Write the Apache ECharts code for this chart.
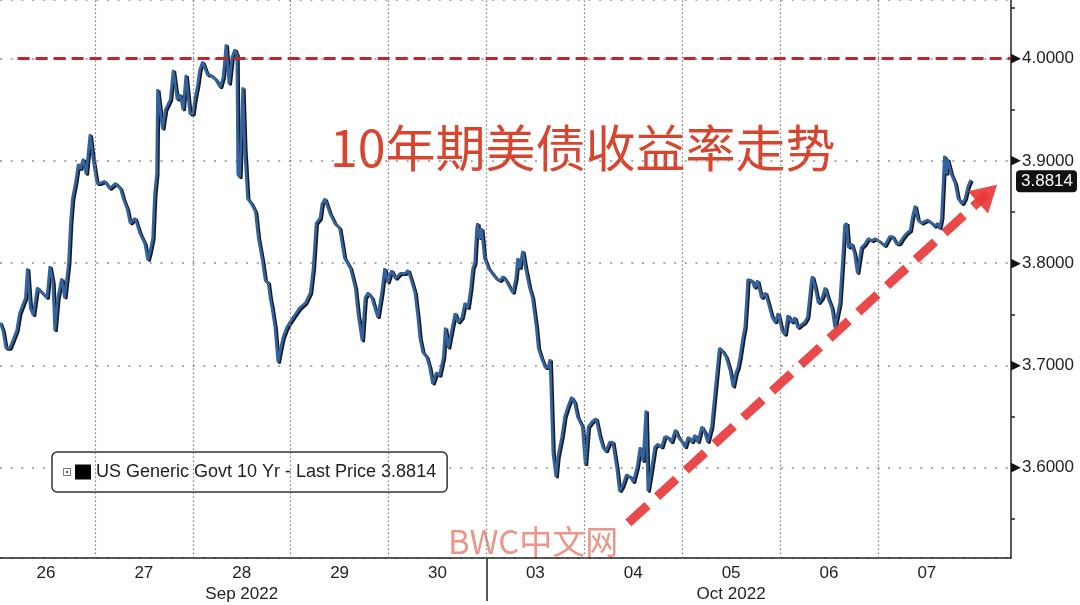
<!DOCTYPE html>
<html>
<head>
<meta charset="utf-8">
<script src="https://cdn.jsdelivr.net/npm/echarts@6/dist/echarts.min.js"></script>
<style>
  html, body { margin: 0; padding: 0; background: #fff; }
  #chart { width: 1080px; height: 605px; }
</style>
</head>
<body>
<div id="chart"></div>
<script>
// x = trading-session position (0 = Sep 26 open, 1 day per unit), y = yield %
const days = [
  0.03, 0.06, 0.09, 0.13, 0.16, 0.20, 0.23, 0.29, 0.31, 0.34,
  0.37, 0.41, 0.46, 0.51, 0.54, 0.57, 0.59, 0.62, 0.66, 0.69,
  0.73, 0.75, 0.77, 0.80, 0.83, 0.85, 0.88, 0.91, 0.95, 0.98,
  1.02, 1.05, 1.10, 1.15, 1.21, 1.26, 1.29, 1.33, 1.36, 1.41,
  1.46, 1.51, 1.54, 1.56, 1.59, 1.61, 1.63, 1.64, 1.69, 1.72,
  1.77, 1.80, 1.84, 1.87, 1.90, 1.93, 1.97, 2.00, 2.02, 2.05,
  2.07, 2.10, 2.15, 2.18, 2.23, 2.28, 2.31, 2.34, 2.37, 2.40,
  2.43, 2.45, 2.46, 2.48, 2.51, 2.53, 2.56, 2.60, 2.64, 2.67,
  2.71, 2.74, 2.77, 2.79, 2.81, 2.84, 2.87, 2.89, 2.92, 2.96,
  2.99, 3.04, 3.09, 3.15, 3.20, 3.23, 3.26, 3.30, 3.32, 3.35,
  3.40, 3.45, 3.50, 3.55, 3.61, 3.66, 3.69, 3.73, 3.76, 3.79,
  3.83, 3.86, 3.89, 3.93, 3.96, 3.99, 4.03, 4.07, 4.12, 4.17,
  4.20, 4.24, 4.27, 4.30, 4.32, 4.35, 4.39, 4.42, 4.45, 4.49,
  4.52, 4.56, 4.58, 4.61, 4.65, 4.68, 4.71, 4.75, 4.78, 4.81,
  4.84, 4.86, 4.88, 4.90, 4.91, 4.93, 4.95, 4.98, 5.02, 5.06,
  5.10, 5.14, 5.17, 5.20, 5.24, 5.27, 5.30, 5.32, 5.34, 5.37,
  5.40, 5.44, 5.47, 5.51, 5.53, 5.56, 5.60, 5.63, 5.65, 5.68,
  5.71, 5.73, 5.77, 5.80, 5.83, 5.87, 5.90, 5.93, 5.98, 6.01,
  6.04, 6.08, 6.12, 6.16, 6.19, 6.22, 6.26, 6.29, 6.33, 6.36,
  6.39, 6.43, 6.47, 6.50, 6.54, 6.57, 6.60, 6.63, 6.65, 6.69,
  6.72, 6.75, 6.79, 6.82, 6.85, 6.89, 6.93, 6.96, 7.00, 7.03,
  7.06, 7.10, 7.13, 7.16, 7.20, 7.23, 7.26, 7.30, 7.33, 7.36,
  7.38, 7.42, 7.45, 7.49, 7.52, 7.55, 7.57, 7.59, 7.62, 7.64,
  7.66, 7.67, 7.71, 7.74, 7.77, 7.81, 7.85, 7.88, 7.92, 7.95,
  7.98, 8.02, 8.05, 8.08, 8.12, 8.15, 8.18, 8.22, 8.25, 8.28,
  8.32, 8.33, 8.36, 8.39, 8.43, 8.46, 8.49, 8.53, 8.56, 8.58,
  8.61, 8.63, 8.66, 8.68, 8.70, 8.73, 8.76, 8.79, 8.83, 8.87,
  8.90, 8.94, 8.97, 9.02, 9.07, 9.12, 9.15, 9.19, 9.22, 9.25,
  9.29, 9.33, 9.35, 9.38, 9.41, 9.45, 9.48, 9.51, 9.55, 9.58,
  9.61, 9.63, 9.65, 9.68, 9.70, 9.71, 9.73, 9.75, 9.79, 9.82,
  9.86, 9.89, 9.92, 9.95
]
const yields = [
  3.742, 3.734, 3.717, 3.717, 3.724, 3.734, 3.751, 3.766, 3.795, 3.756,
  3.749, 3.776, 3.771, 3.766, 3.797, 3.781, 3.734, 3.766, 3.785, 3.766,
  3.800, 3.839, 3.863, 3.878, 3.897, 3.892, 3.902, 3.887, 3.926, 3.902,
  3.878, 3.878, 3.880, 3.873, 3.878, 3.873, 3.863, 3.853, 3.839, 3.844,
  3.829, 3.819, 3.803, 3.810, 3.824, 3.868, 3.887, 3.970, 3.931, 3.950,
  3.960, 3.989, 3.960, 3.965, 3.950, 3.984, 3.946, 3.946, 3.960, 3.975,
  3.989, 3.997, 3.984, 3.984, 3.980, 3.972, 3.982, 4.014, 3.975, 4.001,
  4.009, 4.004, 3.887, 3.884, 3.972, 3.912, 3.863, 3.858, 3.850, 3.824,
  3.803, 3.783, 3.781, 3.766, 3.756, 3.737, 3.703, 3.713, 3.727, 3.737,
  3.742, 3.749, 3.756, 3.761, 3.771, 3.795, 3.839, 3.844, 3.858, 3.863,
  3.849, 3.839, 3.834, 3.805, 3.795, 3.776, 3.749, 3.724, 3.766, 3.771,
  3.766, 3.756, 3.747, 3.771, 3.795, 3.781, 3.793, 3.785, 3.790, 3.790,
  3.793, 3.781, 3.771, 3.747, 3.727, 3.713, 3.708, 3.698, 3.682, 3.693,
  3.690, 3.708, 3.737, 3.717, 3.737, 3.751, 3.742, 3.747, 3.761, 3.756,
  3.776, 3.795, 3.800, 3.834, 3.839, 3.824, 3.834, 3.805, 3.795, 3.790,
  3.785, 3.783, 3.787, 3.783, 3.776, 3.771, 3.785, 3.805, 3.795, 3.812,
  3.795, 3.776, 3.766, 3.737, 3.717, 3.708, 3.698, 3.698, 3.706, 3.614,
  3.591, 3.611, 3.630, 3.650, 3.659, 3.669, 3.664, 3.650, 3.640, 3.603,
  3.640, 3.645, 3.648, 3.630, 3.620, 3.616, 3.625, 3.625, 3.601, 3.577,
  3.582, 3.593, 3.591, 3.586, 3.601, 3.620, 3.606, 3.656, 3.577, 3.601,
  3.620, 3.623, 3.620, 3.630, 3.630, 3.625, 3.637, 3.630, 3.625, 3.620,
  3.630, 3.625, 3.632, 3.625, 3.640, 3.635, 3.625, 3.640, 3.669, 3.698,
  3.717, 3.713, 3.708, 3.695, 3.679, 3.693, 3.698, 3.708, 3.727, 3.737,
  3.766, 3.784, 3.783, 3.776, 3.783, 3.766, 3.771, 3.761, 3.747, 3.742,
  3.751, 3.734, 3.730, 3.749, 3.742, 3.747, 3.737, 3.740, 3.742, 3.747,
  3.783, 3.787, 3.776, 3.761, 3.766, 3.776, 3.766, 3.756, 3.737, 3.737,
  3.761, 3.790, 3.837, 3.839, 3.815, 3.819, 3.810, 3.790, 3.815, 3.819,
  3.824, 3.822, 3.824, 3.821, 3.817, 3.826, 3.826, 3.819, 3.819, 3.824,
  3.829, 3.832, 3.844, 3.856, 3.842, 3.839, 3.841, 3.842, 3.839, 3.836,
  3.839, 3.834, 3.844, 3.905, 3.887, 3.902, 3.902, 3.887, 3.878, 3.863,
  3.858, 3.863, 3.875, 3.8814
]

const dayLabels = ['26', '27', '28', '29', '30', '03', '04', '05', '06', '07']
const monthLabels = {2: 'Sep 2022', 7: 'Oct 2022'}
const dayBreaks = [1, 2, 3, 4, 5, 6, 7, 8, 9]
const monthBreak = 5
const lastPrice = 3.8814
const capLevel = 4.0
const trendFrom = [6.45, 3.546]
const trendTo = [10.12, 3.868]
const legendName = 'US Generic Govt 10 Yr - Last Price 3.8814'

const chart = echarts.init(document.getElementById('chart'))

const gridLines = dayBreaks.map(d => ({
  xAxis: d,
  lineStyle: {color: '#7a7a7a', type: [1.5, 2.5], width: 1.2}
}))

const option = {
  animation: false,
  backgroundColor: '#fff',
  grid: {left: 0, right: 69, top: 0, bottom: 43},
  legend: {
    left: 52,
    top: 452,
    data: [{name: legendName, icon: 'rect', itemStyle: {color: '#000'}}],
    itemWidth: 16,
    itemHeight: 15,
    backgroundColor: '#fff',
    borderColor: '#333',
    borderWidth: 1.5,
    borderRadius: 5,
    padding: [11, 11, 11, 23],
    selectedMode: false,
    textStyle: {fontSize: 18, color: '#222', fontFamily: 'Liberation Sans'}
  },
  xAxis: {
    type: 'value',
    min: 0.03,
    max: 10.36,
    axisLine: {onZero: false, lineStyle: {color: '#222', width: 1.5}},
    axisTick: {show: true, customValues: [monthBreak], length: 43, lineStyle: {color: '#222', width: 1.5}},
    splitLine: {show: false},
    axisLabel: {
      customValues: dayLabels.map((d, i) => i + 0.5),
      formatter: (v) => {
        const i = Math.floor(v)
        return dayLabels[i] + (monthLabels[i] ? '\n' + monthLabels[i] : '')
      },
      color: '#222',
      fontSize: 17,
      fontFamily: 'Liberation Sans',
      lineHeight: 21,
      margin: 5
    }
  },
  yAxis: {
    type: 'value',
    position: 'right',
    min: 3.5117,
    max: 4.0573,
    minInterval: 0.1,
    maxInterval: 0.1,
    axisLine: {show: true, lineStyle: {color: '#222', width: 1.5}},
    axisTick: {show: false},
    minorTick: {show: true, splitNumber: 2, length: 4, lineStyle: {color: '#222', width: 1.5}},
    splitLine: {show: true, lineStyle: {color: '#8f8f8f', type: [2, 8.7], width: 1.6}},
    axisLabel: {
      showMinLabel: false,
      showMaxLabel: false,
      margin: 0,
      formatter: (v) => '{t|▶}{v|' + v.toFixed(4) + '}',
      rich: {
        t: {fontSize: 13, color: '#111', fontFamily: 'DejaVu Sans', padding: [0, 1, 0, 0]},
        v: {fontSize: 17, color: '#222', fontFamily: 'Liberation Sans'}
      }
    }
  },
  series: [
    {
      name: legendName,
      type: 'line',
      data: days.map((d, i) => [d, yields[i]]),
      showSymbol: false,
      symbol: 'none',
      lineStyle: {
        color: '#33639f',
        width: 2.8,
        shadowColor: 'rgba(0,0,0,0.9)',
        shadowOffsetX: 1.5,
        shadowOffsetY: 1.2
      },
      z: 3,
      markLine: {
        silent: true,
        symbol: 'none',
        animation: false,
        label: {show: false},
        data: gridLines.concat([
          [
            {coord: [0.21, capLevel]},
            {coord: [10.36, capLevel]}
          ].map(p => Object.assign(p, {lineStyle: {color: '#c3242c', type: [12, 6], width: 3}})),
          {
            yAxis: lastPrice,
            lineStyle: {color: 'transparent', width: 0},
            label: {
              show: true,
              position: 'end',
              distance: 5,
              formatter: lastPrice.toFixed(4),
              color: '#fff',
              backgroundColor: '#111',
              borderRadius: 4,
              padding: [3, 4, 2, 5],
              fontSize: 17,
              fontFamily: 'Liberation Sans'
            }
          },
          [
            {coord: trendFrom, symbol: 'none'},
            {coord: trendTo, symbol: 'triangle', symbolSize: [30, 26]}
          ].map(p => Object.assign(p, {lineStyle: {color: 'rgba(232,58,58,0.92)', type: [26, 13], width: 9}, itemStyle: {color: 'rgba(232,58,58,0.92)'}}))
        ])
      }
    }
  ],
  graphic: [
    {
      type: 'text',
      left: 330,
      top: 123,
      style: {text: '10年期美债收益率走势', fill: '#d8452f', font: '50px "Noto Sans CJK SC"'}
    },
    {
      type: 'text',
      left: 448,
      top: 525,
      style: {text: 'BWC中文网', fill: 'rgba(228,110,92,0.72)', font: '33px "Noto Sans CJK SC"'}
    },
    {
      type: 'rect',
      left: 63,
      top: 468,
      z: 200,
      shape: {width: 7, height: 7},
      style: {fill: '#fff', stroke: '#777', lineWidth: 1}
    },
    {
      type: 'rect',
      left: 66,
      top: 471,
      z: 201,
      shape: {width: 2, height: 2},
      style: {fill: '#555'}
    }
  ]
}

chart.setOption(option)
</script>
</body>
</html>
